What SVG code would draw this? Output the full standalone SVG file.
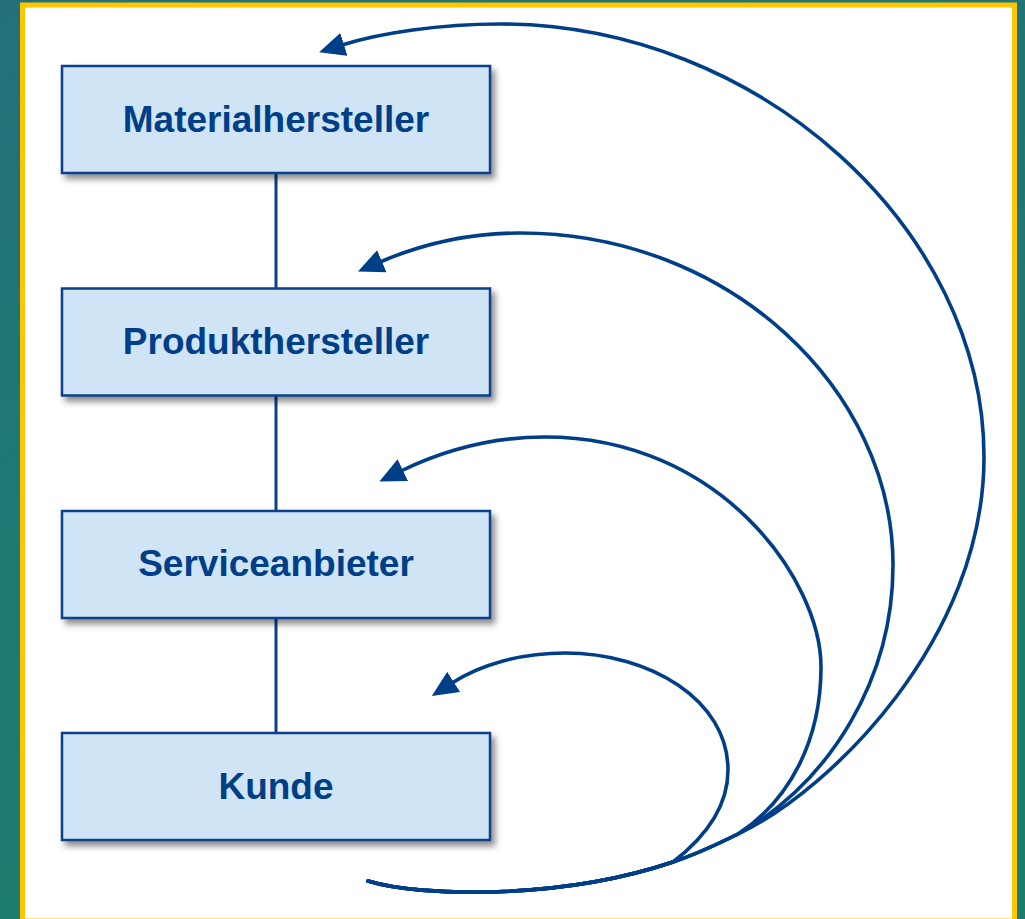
<svg xmlns="http://www.w3.org/2000/svg" width="1025" height="919" viewBox="0 0 1025 919">
  <defs>
    <linearGradient id="bg" x1="0" y1="0" x2="0.3" y2="1">
      <stop offset="0" stop-color="#23707a"/>
      <stop offset="0.5" stop-color="#1f7873"/>
      <stop offset="1" stop-color="#1d7d70"/>
    </linearGradient>
    <filter id="shadow" x="-10%" y="-10%" width="125%" height="140%">
      <feDropShadow dx="4" dy="5" stdDeviation="3" flood-color="#000" flood-opacity="0.45"/>
    </filter>
    <marker id="arrow" viewBox="0 0 26 24" refX="2" refY="12" markerWidth="26" markerHeight="24" markerUnits="userSpaceOnUse" orient="auto">
      <path d="M0,0 L26,12 L0,24 Z" fill="#003f87"/>
    </marker>
  </defs>
  <style>
    .box { fill: #cfe5f5; stroke: #0a4189; stroke-width: 2.5; filter: url(#shadow); }
    .label { font-family: "Liberation Sans", Arial, sans-serif; font-weight: bold; font-size: 37px; fill: #003f87; text-anchor: middle; }
    .link { stroke: #0a4189; stroke-width: 3; fill: none; }
    .curve { stroke: #003f87; stroke-width: 3.6; fill: none; stroke-linecap: round; marker-end: url(#arrow); }
  </style>
  <rect x="0" y="0" width="1025" height="919" fill="url(#bg)"/>
  <rect x="22.5" y="5" width="992" height="916" fill="#ffffff" stroke="#ffc600" stroke-width="5"/>

  <g id="connectors">
    <line class="link" x1="276" y1="173" x2="276" y2="288"/>
    <line class="link" x1="276" y1="396" x2="276" y2="511"/>
    <line class="link" x1="276" y1="618" x2="276" y2="733"/>
    <path class="curve" d="M368 881 C420 897 560 900 673 862 C700 853 720 843 740 833 C830 790 984 640 984 457 C984 230 760 24 500 24 C440 24 380 33 342 45"/>
    <path class="curve" d="M368 881 C420 897 560 900 673 862 C700 853 722 842 742 832 C830 780 893 680 893 565 C893 390 730 233 520 233 C460 233 415 247 380 262"/>
    <path class="curve" d="M368 881 C420 897 560 900 673 862 C700 853 720 843 738 834 C790 800 821 740 821 667 C821 580 720 437 545 437 C490 437 440 452 401 471"/>
    <path class="curve" d="M368 881 C420 897 560 900 673 862 C712 832 728 800 728 770 C728 700 650 653 565 653 C520 653 480 665 452 683"/>
  </g>

  <g id="materialhersteller">
    <rect class="box" x="62" y="66" width="428" height="107"/>
    <text class="label" x="276" y="132">Materialhersteller</text>
  </g>
  <g id="produkthersteller">
    <rect class="box" x="62" y="288.5" width="428" height="107"/>
    <text class="label" x="276" y="354">Produkthersteller</text>
  </g>
  <g id="serviceanbieter">
    <rect class="box" x="62" y="511" width="428" height="107"/>
    <text class="label" x="276" y="576">Serviceanbieter</text>
  </g>
  <g id="kunde">
    <rect class="box" x="62" y="733" width="428" height="107"/>
    <text class="label" x="276" y="799">Kunde</text>
  </g>
</svg>
